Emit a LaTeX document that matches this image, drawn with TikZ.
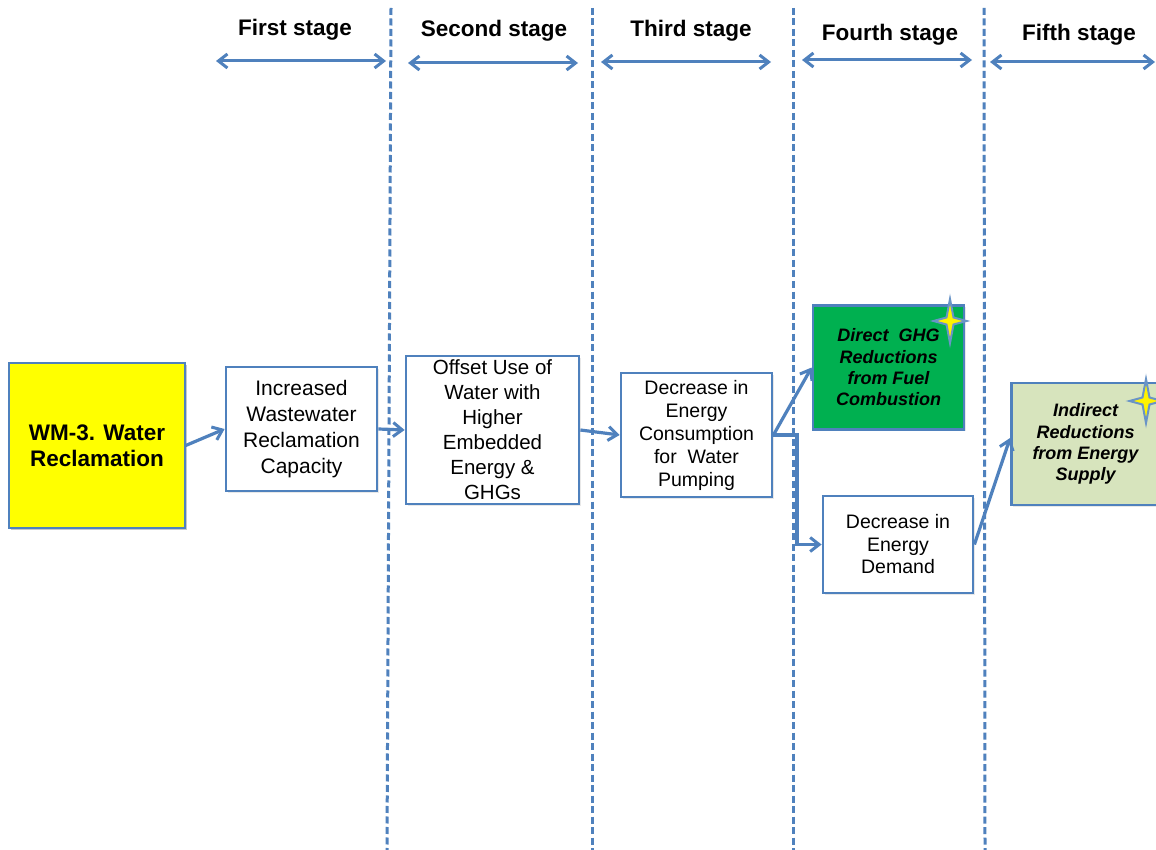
\documentclass[tikz,border=0pt]{standalone}
\usepackage{fontspec}
\setmainfont{Liberation Sans}
\usetikzlibrary{arrows.meta,shadows}

\definecolor{lineblue}{RGB}{79,129,189}
\definecolor{boxyellow}{RGB}{255,255,0}
\definecolor{boxgreen}{RGB}{0,176,80}
\definecolor{boxpale}{RGB}{215,228,189}

\tikzset{
  barb/.tip={Straight Barb[length=9pt,width=14pt,line width=3pt]},
  divider/.style={draw=lineblue, line width=3pt, dash pattern=on 7pt off 3.5pt},
  span/.style={draw=lineblue, line width=3pt, barb-barb},
  link/.style={draw=lineblue, line width=3.2pt, -barb},
  stagehead/.style={font={\fontsize{22.5}{26}\selectfont\bfseries}, anchor=base, inner sep=0pt},
  stepbox/.style={draw=lineblue, line width=2.8pt, fill=white, align=center, inner sep=0pt,
    drop shadow={shadow xshift=1.5pt, shadow yshift=-1.5pt, opacity=0.18}},
  sparkle/.style={fill=yellow, draw=lineblue!85, line width=2pt, line join=miter}
}

\newcommand{\sparkleat}[1]{%
  \path[sparkle] (#1) ++(0,-22) -- ++(3.5,18.5) -- ++(13,3.5) -- ++(-13,3.5) -- ++(-3.5,18.5)
    -- ++(-3.5,-18.5) -- ++(-13,-3.5) -- ++(13,-3.5) -- cycle;}

\begin{document}
\begin{tikzpicture}[x=1pt,y=-1pt]
  \clip (0,0) rectangle (1156,850);
  \fill[white] (0,0) rectangle (1156,850);

  % stage dividers
  \coordinate (d1t) at (391,8);  \coordinate (d1b) at (387,850);
  \coordinate (d2t) at (592,8);  \coordinate (d2b) at (592,850);
  \coordinate (d3t) at (793,8);  \coordinate (d3b) at (793,850);
  \coordinate (d4t) at (984,8);  \coordinate (d4b) at (985,850);
  \draw[divider] (d1t) -- (d1b);
  \draw[divider] (d2t) -- (d2b);
  \draw[divider] (d3t) -- (d3b);
  \draw[divider] (d4t) -- (d4b);

  % stage headings
  \node[stagehead] (h1) at (295,36) {First stage};
  \node[stagehead] (h2) at (494,37) {Second stage};
  \node[stagehead] (h3) at (691,37) {Third stage};
  \node[stagehead] (h4) at (890,41) {Fourth stage};
  \node[stagehead] (h5) at (1079,41) {Fifth stage};

  % stage extent arrows
  \coordinate (s1l) at (216,61);  \coordinate (s1r) at (386,61);
  \coordinate (s2l) at (408,63);  \coordinate (s2r) at (578,63);
  \coordinate (s3l) at (601,62);  \coordinate (s3r) at (771,62);
  \coordinate (s4l) at (802,60);  \coordinate (s4r) at (972,60);
  \coordinate (s5l) at (990,62);  \coordinate (s5r) at (1155,62);
  \draw[span] (s1l) -- (s1r);
  \draw[span] (s2l) -- (s2r);
  \draw[span] (s3l) -- (s3r);
  \draw[span] (s4l) -- (s4r);
  \draw[span] (s5l) -- (s5r);

  % boxes
  \node[stepbox, fill=boxyellow, line width=1.4pt, minimum width=176pt, minimum height=165pt,
        font={\fontsize{22.5}{26}\selectfont\bfseries},
        drop shadow={shadow xshift=2pt, shadow yshift=-2pt, opacity=0.3}]
    (wm) at (97,445.5) {WM-3. Water\\Reclamation};
  \node[stepbox, minimum width=151pt, minimum height=124pt, font={\fontsize{21}{26}\selectfont}]
    (cap) at (301.5,429) {Increased\\Wastewater\\Reclamation\\Capacity};
  \node[stepbox, minimum width=173pt, minimum height=148pt, font={\fontsize{20.5}{25}\selectfont}]
    (off) at (492.5,430) {Offset Use of\\Water with\\Higher\\Embedded\\Energy \&\\GHGs};
  \node[stepbox, minimum width=151pt, minimum height=124pt, font={\fontsize{19.5}{23}\selectfont}]
    (pump) at (696.5,435) {Decrease in\\Energy\\Consumption\\for\ \ Water\\Pumping};
  \node[stepbox, fill=boxgreen, minimum width=151pt, minimum height=124pt,
        font={\fontsize{18}{21.3}\selectfont\bfseries\itshape}]
    (fuel) at (888.5,367.5) {Direct\ \ GHG\\Reductions\\from Fuel\\Combustion};
  \node[stepbox, minimum width=150pt, minimum height=97pt, font={\fontsize{19.5}{22.5}\selectfont}]
    (dem) at (898,544.5) {Decrease in\\Energy\\Demand};
  \node[stepbox, fill=boxpale, minimum width=148pt, minimum height=122pt,
        font={\fontsize{18}{21.3}\selectfont\bfseries\itshape}]
    (sup) at (1085.5,444) {Indirect\\Reductions\\from Energy\\Supply};

  % sparkles
  \coordinate (st1) at (950,321);
  \coordinate (st2) at (1146,401);
  \sparkleat{st1}
  \sparkleat{st2}

  % connectors
  \draw[link] (wm.east) -- (cap.west);
  \draw[link] (cap.east) -- (off.west);
  \draw[link] (off.east) -- (pump.west);
  \draw[link] (pump.east) -- (fuel.west);
  \coordinate (bend) at (797,435);
  \draw[link] (pump.east) -- (bend) |- (dem.west);
  \draw[link] (dem.east) -- ([yshift=6pt]sup.west);
\end{tikzpicture}
\end{document}
